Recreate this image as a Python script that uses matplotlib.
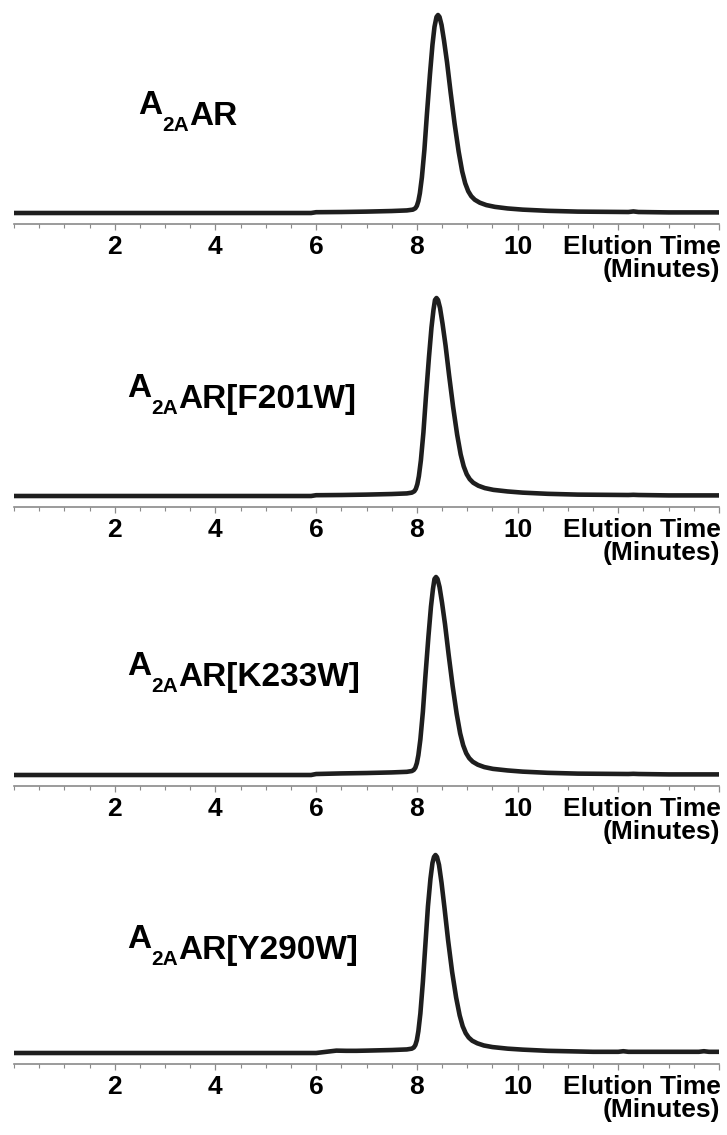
import matplotlib
matplotlib.use("Agg")
import matplotlib.pyplot as plt
from matplotlib.ticker import MultipleLocator

# ---------------- data (elution time in minutes, normalized absorbance) ----------------
names = ["AR", "AR[F201W]", "AR[K233W]", "AR[Y290W]"]

t_wt = [0, 5.9, 6.0, 6.5, 7.0, 7.5, 7.8, 7.92, 7.97, 8.0, 8.03, 8.06, 8.10, 8.15, 8.20, 8.26,
        8.31, 8.35, 8.39, 8.42, 8.45, 8.49, 8.54, 8.60, 8.67, 8.75, 8.83, 8.90, 8.96, 9.02,
        9.08, 9.15, 9.25, 9.38, 9.55, 9.8, 10.1, 10.6, 11.2, 12.2, 12.3, 12.4, 13.0, 14.0]
y_wt = [0, 0, 0.004, 0.005, 0.007, 0.010, 0.013, 0.017, 0.024, 0.036, 0.06, 0.10, 0.18, 0.32,
        0.50, 0.70, 0.85, 0.94, 0.99, 1.0, 0.99, 0.95, 0.87, 0.76, 0.61, 0.45, 0.31, 0.21, 0.15,
        0.11, 0.085, 0.067, 0.052, 0.040, 0.031, 0.023, 0.017, 0.011, 0.007, 0.005, 0.008,
        0.005, 0.003, 0.003]

t_f201w = [0, 5.9, 6.0, 6.5, 7.0, 7.5, 7.8, 7.90, 7.95, 7.98, 8.01, 8.04, 8.08, 8.13, 8.18,
           8.24, 8.29, 8.33, 8.36, 8.39, 8.42, 8.46, 8.51, 8.57, 8.64, 8.72, 8.80, 8.87, 8.93,
           8.99, 9.05, 9.12, 9.22, 9.35, 9.52, 9.8, 10.1, 10.6, 11.2, 12.2, 12.3, 12.4, 13.0,
           14.0]
y_f201w = [0, 0, 0.004, 0.005, 0.007, 0.010, 0.013, 0.017, 0.024, 0.036, 0.06, 0.10, 0.18,
           0.32, 0.50, 0.70, 0.85, 0.94, 0.99, 1.0, 0.99, 0.95, 0.87, 0.76, 0.61, 0.45, 0.31,
           0.21, 0.15, 0.11, 0.085, 0.067, 0.052, 0.040, 0.031, 0.023, 0.017, 0.011, 0.007,
           0.005, 0.006, 0.005, 0.003, 0.003]

t_k233w = [0, 5.9, 6.0, 6.5, 7.0, 7.5, 7.8, 7.90, 7.94, 7.97, 8.00, 8.03, 8.07, 8.12, 8.17,
           8.23, 8.28, 8.32, 8.35, 8.38, 8.41, 8.45, 8.50, 8.56, 8.63, 8.71, 8.79, 8.86, 8.92,
           8.98, 9.04, 9.11, 9.21, 9.34, 9.51, 9.8, 10.1, 10.6, 11.2, 12.2, 12.3, 12.4, 13.0,
           14.0]
y_k233w = [0, 0, 0.005, 0.008, 0.010, 0.013, 0.016, 0.020, 0.026, 0.037, 0.06, 0.10, 0.18,
           0.32, 0.50, 0.70, 0.85, 0.94, 0.99, 1.0, 0.99, 0.95, 0.87, 0.76, 0.61, 0.45, 0.31,
           0.21, 0.15, 0.11, 0.085, 0.067, 0.052, 0.040, 0.031, 0.023, 0.017, 0.011, 0.007,
           0.005, 0.006, 0.005, 0.003, 0.003]

t_y290w = [0, 6.0, 6.2, 6.4, 6.6, 6.8, 7.0, 7.5, 7.8, 7.90, 7.94, 7.97, 8.00, 8.03, 8.07, 8.12,
           8.17, 8.22, 8.27, 8.31, 8.34, 8.37, 8.40, 8.44, 8.49, 8.55, 8.62, 8.70, 8.78, 8.85,
           8.91, 8.97, 9.03, 9.10, 9.20, 9.33, 9.50, 9.8, 10.1, 10.6, 11.5, 12.0, 12.1, 12.2,
           13.6, 13.7, 13.8, 14.0]
y_y290w = [0, 0, 0.006, 0.012, 0.011, 0.011, 0.012, 0.015, 0.018, 0.022, 0.028, 0.040, 0.065,
           0.11, 0.20, 0.36, 0.55, 0.74, 0.88, 0.96, 0.99, 1.0, 0.99, 0.95, 0.86, 0.73, 0.57,
           0.41, 0.28, 0.19, 0.135, 0.10, 0.078, 0.062, 0.049, 0.038, 0.030, 0.022, 0.017,
           0.011, 0.006, 0.006, 0.009, 0.006, 0.006, 0.009, 0.006, 0.006]

traces = [(t_wt, y_wt), (t_f201w, y_f201w), (t_k233w, y_k233w), (t_y290w, y_y290w)]

x_major = [2, 4, 6, 8, 10, 12, 14]
x_major_labels = ["2", "4", "6", "8", "10", "", ""]
x_label_1 = "Elution Time"
x_label_2 = "(Minutes)"

# ---------------- fonts ----------------
tick_font = ["Liberation Sans", "DejaVu Sans"]
title_font = ["Liberation Sans", "DejaVu Sans"]
tick_size = 19

# ---------------- layout ----------------
W, H = 727, 1135
fig = plt.figure(figsize=(W / 100, H / 100), dpi=100)

axis_y = [224, 507, 786, 1064]     # pixel row of each axis line
label_x = [138, 127, 127, 127]      # pixel left of each panel label
label_dy = [110, 110, 111, 116]     # label baseline above axis line (px)
x0_px, x1_px = 14, 719
ax_h = 220
base_off = 11
peak_px = 198

for i, ((t, y), name) in enumerate(zip(traces, names)):
    bottom = 1 - axis_y[i] / H
    ax = fig.add_axes([x0_px / W, bottom, (x1_px - x0_px) / W, ax_h / H])
    ax.plot(t, y, color="#1e1e1e", lw=3.3, solid_joinstyle="round", solid_capstyle="butt",
            clip_on=False)
    ax.set_xlim(0, 14)
    ax.set_ylim(-base_off / peak_px, (ax_h - base_off) / peak_px)
    for s in ["top", "left", "right"]:
        ax.spines[s].set_visible(False)
    ax.spines["bottom"].set_color("#8a8a8a")
    ax.spines["bottom"].set_linewidth(1.2)
    ax.set_yticks([])
    ax.set_xticks(x_major)
    ax.set_xticklabels(x_major_labels)
    ax.xaxis.set_minor_locator(MultipleLocator(0.5))
    ax.tick_params(axis="x", which="major", direction="out", length=4.5, width=0.9,
                   color="#8a8a8a", pad=3.5)
    ax.tick_params(axis="x", which="minor", direction="out", length=3, width=0.8,
                   color="#8a8a8a")
    for lab in ax.get_xticklabels():
        lab.set_fontfamily(tick_font)
        lab.set_fontweight("bold")
        lab.set_fontsize(tick_size)
    ax.patch.set_alpha(0)

    ax.annotate(x_label_1, xy=(14, 0), xycoords=("data", "axes fraction"),
                xytext=(1, -8), textcoords="offset points", ha="right", va="top",
                fontsize=tick_size, fontweight="bold", family=tick_font, annotation_clip=False)
    ax.annotate(x_label_2, xy=(14, 0), xycoords=("data", "axes fraction"),
                xytext=(1, -24.5), textcoords="offset points", ha="right", va="top",
                fontsize=tick_size, fontweight="bold", family=tick_font, annotation_clip=False)

    # panel label: A, subscript 2A, then rest
    bx = label_x[i] / W
    by = 1 - (axis_y[i] - label_dy[i]) / H
    t1 = fig.text(bx, by, "A", fontsize=24, fontweight="bold", family=title_font,
                  ha="left", va="baseline")
    a2 = ax.annotate("2A", xy=(1, 0), xycoords=t1, xytext=(0, -7), textcoords="offset points",
                     fontsize=15, fontweight="bold", family=title_font, ha="left", va="baseline",
                     annotation_clip=False)
    ax.annotate(name, xy=(1, 0), xycoords=a2, xytext=(0, 7), textcoords="offset points",
                fontsize=24, fontweight="bold", family=title_font, ha="left", va="baseline",
                annotation_clip=False)

fig.savefig("out.png", dpi=100)
